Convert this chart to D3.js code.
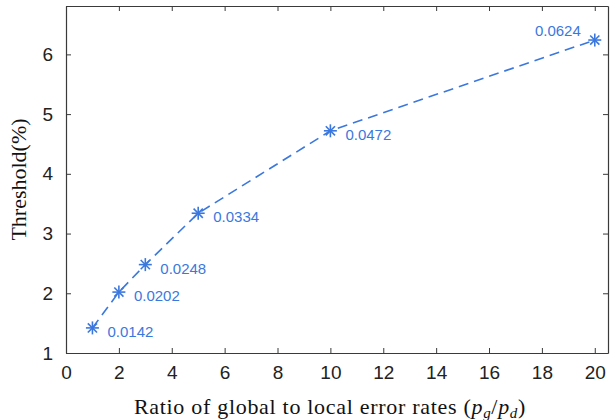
<!DOCTYPE html>
<html>
<head>
<meta charset="utf-8">
<script src="https://cdn.jsdelivr.net/npm/d3@7"></script>
<style>
  body { margin: 0; background: #fff; }
  text { font-family: "Liberation Sans", Arial, sans-serif; }
  .serif { font-family: "Liberation Serif", "Times New Roman", serif; }
</style>
</head>
<body>
<div id="chart"></div>
<script>
// ratio p_g/p_d and threshold (%)
const ratios = [1, 2, 3, 5, 10, 20];
const thresholds = [1.42, 2.02, 2.48, 3.34, 4.72, 6.24];
const pointLabels = ["0.0142", "0.0202", "0.0248", "0.0334", "0.0472", "0.0624"];
const xTicks = [0, 2, 4, 6, 8, 10, 12, 14, 16, 18, 20];
const yTicks = [1, 2, 3, 4, 5, 6];

const width = 611, height = 420;
const margin = { left: 66, right: 2, top: 6, bottom: 68 };
const blue = "#3b78de";
const axisColor = "#3a3a3a";

const svg = d3.select("#chart").append("svg")
  .attr("width", width)
  .attr("height", height);

const x = d3.scaleLinear().domain([0, 20.5]).range([margin.left, width - margin.right - 1]);
const y = d3.scaleLinear().domain([1, 6.81]).range([height - margin.bottom + 1, margin.top]);

// box + ticks
const tickLen = 5;
const g = svg.append("g");

const xAxis = g.append("g")
  .attr("transform", `translate(0,${y(1)})`)
  .call(d3.axisBottom(x).tickValues(xTicks).tickSizeInner(-tickLen).tickSizeOuter(0).tickPadding(10));
const xTop = g.append("g")
  .attr("transform", `translate(0,${y(6.81)})`)
  .call(d3.axisTop(x).tickValues(xTicks).tickSizeInner(-tickLen).tickSizeOuter(0).tickFormat(""));
const yAxis = g.append("g")
  .attr("transform", `translate(${x(0)},0)`)
  .call(d3.axisLeft(y).tickValues(yTicks).tickFormat(d3.format("d")).tickSizeInner(-tickLen).tickSizeOuter(0).tickPadding(13));
const yRight = g.append("g")
  .attr("transform", `translate(${x(20.5)},0)`)
  .call(d3.axisRight(y).tickValues(yTicks).tickSizeInner(-tickLen).tickSizeOuter(0).tickFormat(""));

[xAxis, xTop, yAxis, yRight].forEach(a => {
  a.select(".domain").attr("stroke", axisColor).attr("stroke-width", 1.2);
  a.selectAll(".tick line").attr("stroke", axisColor).attr("stroke-width", 1);
  a.selectAll(".tick text")
    .attr("fill", "#222")
    .style("font-size", "19px")
    .style("font-family", "'Liberation Sans', Arial, sans-serif");
});
xAxis.selectAll(".tick text").attr("dy", "0.85em");

// dashed line
const line = d3.line()
  .x((d, i) => x(ratios[i]))
  .y(d => y(d));

svg.append("path")
  .datum(thresholds)
  .attr("d", line)
  .attr("fill", "none")
  .attr("stroke", blue)
  .attr("stroke-width", 1.6)
  .attr("stroke-dasharray", "10,6");

// asterisk markers
const r = 6.5;
const markers = svg.append("g").selectAll("g")
  .data(thresholds)
  .join("g")
  .attr("transform", (d, i) => `translate(${x(ratios[i])},${y(d)})`);
[0, 45, 90, 135].forEach(a => {
  markers.append("line")
    .attr("x1", -r).attr("x2", r)
    .attr("y1", 0).attr("y2", 0)
    .attr("transform", `rotate(${a})`)
    .attr("stroke", blue)
    .attr("stroke-width", 1.6);
});

// value labels
const last = thresholds.length - 1;
svg.append("g").selectAll("text")
  .data(thresholds)
  .join("text")
  .attr("x", (d, i) => x(ratios[i]) + (i === last ? -14 : 15))
  .attr("y", (d, i) => y(d) + (i === last ? -9 : 4))
  .attr("dy", "0.35em")
  .attr("text-anchor", (d, i) => i === last ? "end" : "start")
  .attr("fill", blue)
  .style("font-size", "15px")
  .text((d, i) => pointLabels[i]);

// axis titles
const xl = svg.append("text")
  .attr("class", "serif")
  .attr("x", 330)
  .attr("y", 414)
  .attr("text-anchor", "middle")
  .attr("fill", "#111")
  .style("font-size", "22px")
  .style("letter-spacing", "0.7px");
xl.append("tspan").text("Ratio of global to local error rates (");
xl.append("tspan").attr("font-style", "italic").text("p");
xl.append("tspan").attr("font-style", "italic").attr("dy", 4).style("font-size", "15px").text("g");
xl.append("tspan").attr("dy", -4).text("/");
xl.append("tspan").attr("font-style", "italic").text("p");
xl.append("tspan").attr("font-style", "italic").attr("dy", 4).style("font-size", "15px").text("d");
xl.append("tspan").attr("dy", -4).text(")");

svg.append("text")
  .attr("class", "serif")
  .attr("transform", `translate(26,${(y(1) + y(6.81)) / 2}) rotate(-90)`)
  .attr("text-anchor", "middle")
  .attr("fill", "#111")
  .style("font-size", "22px")
  .text("Threshold(%)");
</script>
</body>
</html>
